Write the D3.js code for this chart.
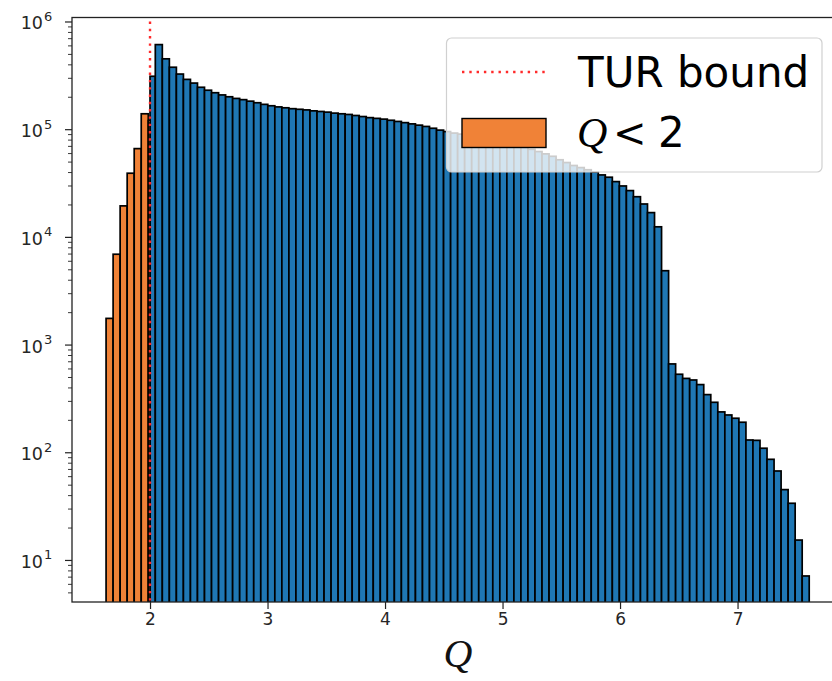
<!DOCTYPE html>
<html><head><meta charset="utf-8">
<script src="https://cdn.jsdelivr.net/npm/d3@7"></script>
<style>body{margin:0;background:#fff}</style>
</head><body><svg id="c" width="832" height="681"></svg>
<script>
// ---- data ----
const binStart = 1.626, binWidth = 0.05984, nBins = 100;
const boundQ = 2;
// Q < 2 histogram (orange), last one is the sliver between the final edge and Q = 2
const orangeCounts = [1750, 6900, 19400, 39000, 66000, 139000, 120000];
// Q >= 2 histogram (blue), first one is the partial bin starting at Q = 2
const blueCounts = [
  310000, 610000, 450000, 376000, 325000, 290000, 268000, 245000, 230000, 218000,
  208000, 200000, 193000, 188000, 182000, 176000, 170000, 165000, 161000, 158000,
  155000, 153000, 151000, 148000, 146000, 144000, 141000, 139000, 137000, 134000,
  131000, 128000, 126000, 124000, 121000, 118000, 115000, 112000, 109000, 106000,
  102000, 98000, 95000, 92000, 90000, 87000, 85000, 83000, 81000, 79000,
  76000, 73000, 71000, 68000, 65000, 62000, 59000, 56000, 52000, 49000,
  46000, 44000, 42000, 40000, 37600, 35800, 32600, 29700, 26900, 23600,
  20200, 16800, 12400, 4850, 661, 530, 485, 469, 425, 343,
  291, 237, 222, 207, 190, 130, 129, 109, 86, 67,
  45, 33.6, 15.3, 7.1
];
const xTicks = [2, 3, 4, 5, 6, 7];
const yExponents = [1, 2, 3, 4, 5, 6];
const legendLine = "TUR bound";
const legendPatch = ["<", "2"];

// ---- layout ----
const L = 72, R = 844, T = 17.5, B = 602;
const svg = d3.select("#c");
const x = d3.scaleLinear().domain([1.336, 7.906]).range([L, R]);
const y = d3.scaleLog().domain([4.07, 1.089e6]).range([B, T]);

const edges = d3.range(nBins + 1).map(i => binStart + i * binWidth);
const firstBlue = edges.findIndex(e => e > boundQ);
const orangeBars = orangeCounts.map((v, i) => {
  const x0 = edges[i];
  const x1 = i < orangeCounts.length - 1 ? edges[i + 1] : boundQ;
  return {x0, x1, v};
});
const blueBars = blueCounts.map((v, j) => {
  const x0 = j === 0 ? boundQ : edges[firstBlue + j - 1];
  const x1 = edges[firstBlue + j];
  return {x0, x1, v};
});

svg.append("defs").append("clipPath").attr("id", "clip")
  .append("rect").attr("x", L).attr("y", T).attr("width", R - L).attr("height", B - T);

const g = svg.append("g").attr("clip-path", "url(#clip)");
function drawBars(data, color) {
  g.append("g").selectAll("rect").data(data).join("rect")
    .attr("x", d => x(d.x0))
    .attr("width", d => x(d.x1) - x(d.x0))
    .attr("y", d => y(d.v))
    .attr("height", d => B - y(d.v) + 2)
    .attr("fill", color)
    .attr("stroke", "#000")
    .attr("stroke-width", 1.7);
}
drawBars(blueBars, "#1f77b4");
drawBars(orangeBars, "#f08237");

// TUR bound line
svg.append("line")
  .attr("x1", x(boundQ)).attr("x2", x(boundQ))
  .attr("y1", y(1e6)).attr("y2", B)
  .attr("stroke", "#ff2a2a").attr("stroke-width", 2.4)
  .attr("stroke-dasharray", "2.4 4.9");

// axes frame
svg.append("rect").attr("x", L).attr("y", T).attr("width", R - L).attr("height", B - T)
  .attr("fill", "none").attr("stroke", "#222").attr("stroke-width", 1.3);

const tickColor = "#222", textColor = "#262626";
// x axis
const xAxis = d3.axisBottom(x).tickValues(xTicks).tickSize(7).tickPadding(4).tickFormat(d3.format("d"));
const gx = svg.append("g").attr("transform", `translate(0,${B})`).call(xAxis);
gx.select(".domain").remove();
gx.selectAll(".tick line").attr("stroke", tickColor).attr("stroke-width", 1.2);
gx.selectAll(".tick text").attr("fill", textColor)
  .style("font-family", "DejaVu Sans").style("font-size", "17px");

// y axis major
const majors = yExponents.map(e => Math.pow(10, e));
const yAxis = d3.axisLeft(y).tickValues(majors).tickSize(7).tickFormat("");
const gy = svg.append("g").attr("transform", `translate(${L},0)`).call(yAxis);
gy.select(".domain").remove();
gy.selectAll(".tick line").attr("stroke", tickColor).attr("stroke-width", 1.2);
// minor
const dom = y.domain();
const minors = [];
for (let e = 0; e <= 6; e++) for (let k = 2; k <= 9; k++) {
  const v = k * Math.pow(10, e);
  if (v >= dom[0] && v <= dom[1]) minors.push(v);
}
const gym = svg.append("g").attr("transform", `translate(${L},0)`)
  .call(d3.axisLeft(y).tickValues(minors).tickSize(4).tickFormat(""));
gym.select(".domain").remove();
gym.selectAll(".tick line").attr("stroke", tickColor).attr("stroke-width", 0.9);

// y labels 10^n
const yl = svg.append("g");
yExponents.forEach(e => {
  yl.append("text").attr("x", 43).attr("y", y(Math.pow(10, e)) + 8)
    .attr("text-anchor", "end").attr("fill", textColor)
    .style("font-family", "DejaVu Sans").style("font-size", "17.5px").text("10");
  yl.append("text").attr("x", 44).attr("y", y(Math.pow(10, e)) - 0.5)
    .attr("fill", textColor)
    .style("font-family", "DejaVu Sans").style("font-size", "13px").text(String(e));
});

// x label
svg.append("text").attr("x", (L + R) / 2).attr("y", 667).attr("text-anchor", "middle")
  .attr("fill", "#111")
  .style("font-family", "Liberation Serif").style("font-style", "italic").style("font-size", "40px")
  .text("Q");

// legend
const lg = svg.append("g");
lg.append("rect").attr("x", 446.5).attr("y", 38).attr("width", 375.5).attr("height", 134)
  .attr("rx", 5).attr("fill", "#fff").attr("fill-opacity", 0.8)
  .attr("stroke", "#d0d0d0").attr("stroke-width", 1.2);
lg.append("line").attr("x1", 462).attr("x2", 546).attr("y1", 72).attr("y2", 72)
  .attr("stroke", "#ff2a2a").attr("stroke-width", 2.4).attr("stroke-dasharray", "2.4 4.9");
lg.append("rect").attr("x", 462).attr("y", 118.5).attr("width", 84).attr("height", 29)
  .attr("fill", "#f08237").attr("stroke", "#000").attr("stroke-width", 1.4);
lg.append("text").attr("x", 578).attr("y", 87).attr("fill", "#000")
  .style("font-family", "DejaVu Sans").style("font-size", "42px").text(legendLine);
lg.append("text").attr("x", 577).attr("y", 147).attr("fill", "#000")
  .style("font-family", "Liberation Serif").style("font-style", "italic").style("font-size", "42px").text("Q");
lg.append("text").attr("x", 613).attr("y", 147).attr("fill", "#000")
  .style("font-family", "DejaVu Sans").style("font-size", "40px").text(legendPatch[0]);
lg.append("text").attr("x", 658).attr("y", 147).attr("fill", "#000")
  .style("font-family", "DejaVu Sans").style("font-size", "42px").text(legendPatch[1]);
</script></body></html>
